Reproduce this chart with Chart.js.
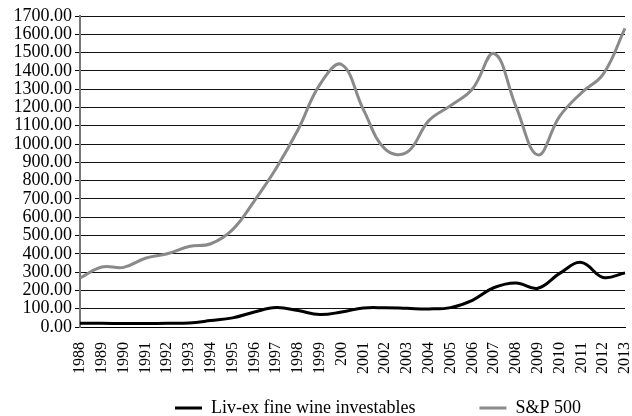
<!DOCTYPE html>
<html>
<head>
<meta charset="utf-8">
<script src="https://cdn.jsdelivr.net/npm/chart.js@4/dist/chart.umd.min.js"></script>
<style>
  html, body { margin: 0; padding: 0; background: #fff; }
  #wrap { width: 632px; height: 416px; }
</style>
</head>
<body>
<div id="wrap"><canvas id="c" width="632" height="416"></canvas></div>
<script>
const years = ["1988","1989","1990","1991","1992","1993","1994","1995","1996","1997","1998","1999","200","2001","2002","2003","2004","2005","2006","2007","2008","2009","2010","2011","2012","2013"];
const livex = [20, 20, 19, 19, 20, 22, 35, 50, 82, 106, 90, 68, 82, 104, 105, 102, 99, 106, 146, 216, 241, 212, 293, 353, 271, 296];
const sp500 = [268, 328, 326, 376, 400, 440, 455, 532, 690, 868, 1078, 1325, 1435, 1188, 972, 955, 1128, 1210, 1301, 1495, 1205, 941, 1151, 1280, 1382, 1632];
const seriesNames = ["Liv-ex fine wine investables", "S&P 500"];
const yMin = 0, yMax = 1700, yStep = 100;

const FONT = "'Liberation Serif', 'Times New Roman', serif";
const LEGEND_PAD = 64;
const LEGEND_FONT = 18;

// Places the built-in legend: start at x=175 and vertical centre at y=408.
const legendPlace = {
  id: 'legendPlace',
  afterLayout(chart) {
    const lg = chart.legend;
    if (!lg) return;
    lg.left = 175 - LEGEND_PAD;
    lg.right = 900;
    lg.width = lg.right - lg.left;
    lg.top = 408 - LEGEND_PAD - LEGEND_FONT / 2;
    lg.bottom = 416;
    lg.height = lg.bottom - lg.top;
  }
};

new Chart(document.getElementById('c'), {
  type: 'line',
  data: {
    labels: years,
    datasets: [
      { label: seriesNames[0], data: livex, borderColor: '#000', backgroundColor: '#000', borderWidth: 3, pointRadius: 0, tension: 0.4, fill: false },
      { label: seriesNames[1], data: sp500, borderColor: '#8a8a8a', backgroundColor: '#8a8a8a', borderWidth: 3, pointRadius: 0, tension: 0.4, fill: false }
    ]
  },
  plugins: [legendPlace],
  options: {
    responsive: false,
    animation: false,
    devicePixelRatio: 1,
    layout: { padding: { top: 16, right: 7, left: 0, bottom: 0 } },
    plugins: {
      tooltip: { enabled: false },
      legend: {
        position: 'bottom',
        align: 'start',
        maxHeight: 30,
        labels: {
          font: { family: FONT, size: LEGEND_FONT },
          color: '#000',
          boxWidth: 27,
          boxHeight: 3,
          padding: LEGEND_PAD,
          generateLabels(chart) {
            return chart.data.datasets.map((ds, i) => ({
              text: ds.label, fillStyle: ds.borderColor, strokeStyle: ds.borderColor,
              lineWidth: 0, hidden: false, datasetIndex: i, fontColor: '#000'
            }));
          }
        }
      }
    },
    scales: {
      x: {
        offset: false,
        grid: { display: false, drawTicks: false },
        border: { display: true, color: '#000', width: 1 },
        ticks: {
          font: { family: FONT, size: 16 }, color: '#000',
          minRotation: 90, maxRotation: 90, autoSkip: false, padding: 15
        },
        afterFit(axis) { axis.height = 59; axis.paddingRight = 0; axis.paddingLeft = 0; }
      },
      y: {
        min: yMin, max: yMax,
        grid: { color: '#111', lineWidth: 1, tickLength: 5, drawTicks: true, tickColor: '#000' },
        border: { display: true, color: '#777', width: 2 },
        ticks: {
          stepSize: yStep, autoSkip: false, font: { family: FONT, size: 18 }, color: '#000', padding: 3,
          callback: v => Number(v).toFixed(2)
        },
        afterFit(axis) { axis.width = 80; axis.paddingTop = 0; axis.paddingBottom = 0; }
      }
    }
  }
});
</script>
</body>
</html>
